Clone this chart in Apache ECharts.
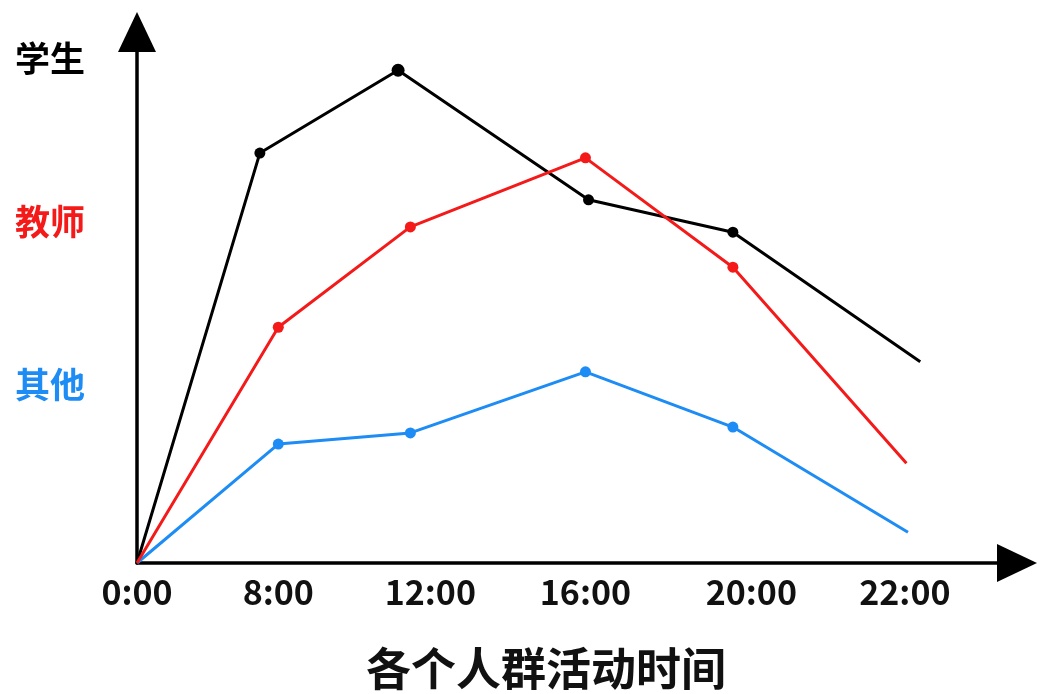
<!DOCTYPE html>
<html>
<head>
<meta charset="utf-8">
<script src="https://cdn.jsdelivr.net/npm/echarts@6/dist/echarts.min.js"></script>
<style>
html,body{margin:0;padding:0;background:#fff;}
#main{width:1040px;height:694px;}
</style>
</head>
<body>
<div id="main"></div>
<script>
// X positions are in "label slot" units (22:00 label = 5); the axis is not linear in hours.
var tickLabels = ['0:00', '8:00', '12:00', '16:00', '20:00', '22:00'];
var tickPos = [0, 0.92, 1.91, 2.92, 4.0, 5.0];

var seriesNames = ['学生', '教师', '其他'];
var seriesColors = ['#000000', '#f51a1a', '#1e8cf5'];

var studentX = [0, 0.80, 1.70, 2.94, 3.88, 5.10];
var studentY = [0, 77.2, 92.8, 68.4, 62.3, 37.9];

var teacherX = [0, 0.92, 1.78, 2.92, 3.88, 5.01];
var teacherY = [0, 44.4, 63.3, 76.3, 55.7, 18.8];

var otherX = [0, 0.92, 1.78, 2.92, 3.88, 5.02];
var otherY = [0, 22.4, 24.5, 36.0, 25.6, 5.8];

var title = '各个人群活动时间';

function pairs(xs, ys) {
  return xs.map(function (x, i) { return [x, ys[i]]; });
}

var FONT = '"Noto Sans CJK SC", "Noto Sans", sans-serif';

function makeSeries(idx, xs, ys) {
  var n = xs.length;
  var peak = ys.indexOf(Math.max.apply(null, ys));
  return {
    name: seriesNames[idx],
    type: 'line',
    data: pairs(xs, ys),
    color: seriesColors[idx],
    lineStyle: { width: 3, color: seriesColors[idx] },
    itemStyle: { color: seriesColors[idx] },
    symbol: function (v, p) {
      return (p.dataIndex === 0 || p.dataIndex === n - 1) ? 'none' : 'circle';
    },
    symbolSize: function (v, p) {
      return (idx === 0 && p.dataIndex === peak) ? 13 : 11;
    },
    showSymbol: true,
    emphasis: { disabled: true }
  };
}

var chart = echarts.init(document.getElementById('main'), null, { renderer: 'canvas' });
chart.setOption({
  animation: false,
  backgroundColor: '#ffffff',
  title: {
    text: title,
    left: 366,
    top: 646,
    padding: 0,
    textStyle: {
      fontFamily: FONT,
      fontSize: 45,
      fontWeight: 'bold',
      color: '#111',
      lineHeight: 45
    }
  },
  legend: {
    orient: 'vertical',
    left: 10,
    top: 39,
    padding: 0,
    icon: 'none',
    itemWidth: 0,
    itemHeight: 40,
    itemGap: 123,
    selectedMode: false,
    data: seriesNames.map(function (n, i) {
      return { name: n, textStyle: { color: seriesColors[i] } };
    }),
    textStyle: {
      fontFamily: FONT,
      fontSize: 35,
      fontWeight: 'bold',
      lineHeight: 40
    }
  },
  grid: { left: 137, right: 23, top: 32, bottom: 131, containLabel: false },
  xAxis: {
    type: 'value',
    min: 0,
    max: 5.73,
    splitLine: { show: false },
    axisTick: { show: false },
    axisLine: {
      show: true,
      onZero: false,
      symbol: ['none', 'triangle'],
      symbolSize: [38, 40],
      lineStyle: { color: '#000', width: 3.5 }
    },
    axisLabel: {
      customValues: tickPos,
      margin: 12,
      fontFamily: FONT,
      fontSize: 34,
      fontWeight: 'bold',
      color: '#111',
      lineHeight: 34,
      formatter: function (v) {
        var best = 0, d = Infinity;
        for (var i = 0; i < tickPos.length; i++) {
          var dd = Math.abs(tickPos[i] - v);
          if (dd < d) { d = dd; best = i; }
        }
        return tickLabels[best];
      }
    }
  },
  yAxis: {
    type: 'value',
    min: 0,
    max: 100,
    splitLine: { show: false },
    axisTick: { show: false },
    axisLabel: { show: false },
    axisLine: {
      show: true,
      onZero: false,
      symbol: ['none', 'triangle'],
      symbolSize: [38, 40],
      lineStyle: { color: '#000', width: 3.5 }
    }
  },
  series: [
    makeSeries(2, otherX, otherY),
    makeSeries(0, studentX, studentY),
    makeSeries(1, teacherX, teacherY)
  ]
});
</script>
</body>
</html>
